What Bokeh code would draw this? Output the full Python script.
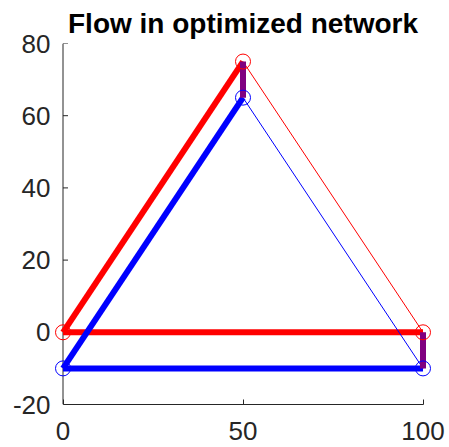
from bokeh.plotting import figure
from bokeh.models import FixedTicker, Range1d
from bokeh.embed import file_html
from bokeh.resources import INLINE

# Node positions (two layers: red upper, blue lower)
node_x = [0, 50, 100]
red_y = [0, 75, 0]
blue_y = [-10, 65, -10]

# Edges as (from, to) node index pairs
thick_edges = [(0, 1), (0, 2)]
thin_edges = [(1, 2)]
# Nodes where the two layers are linked (purple)
link_nodes = [1, 2]

x_ticks = [0, 50, 100]
x_labels = ["0", "50", "100"]
y_ticks = [-20, 0, 20, 40, 60, 80]
y_labels = ["-20", "0", "20", "40", "60", "80"]

AX = "#262626"
PAD = 35 / 12  # small x padding so the end circles are not cut off

p = figure(width=449, height=447, output_backend="svg", toolbar_location=None,
           x_range=Range1d(-PAD, 100 + PAD), y_range=Range1d(-20, 80),
           min_border_left=52, min_border_right=16, min_border_top=43, min_border_bottom=43,
           title="Flow in optimized network")

p.title.text_font = "Liberation Sans"
p.title.text_font_size = "28px"
p.title.text_font_style = "bold"
p.title.text_color = "black"
p.title.align = "center"

p.xgrid.visible = False
p.ygrid.visible = False
p.outline_line_color = None
p.background_fill_color = "white"
p.border_fill_color = "white"

# x axis (below the frame): line and inward ticks limited to 0..100
xa = p.xaxis[0]
xa.ticker = FixedTicker(ticks=x_ticks)
xa.major_label_overrides = {t: l for t, l in zip(x_ticks, x_labels)}
xa.bounds = (x_ticks[0], x_ticks[-1])
xa.major_label_text_font = "Liberation Sans"
xa.major_label_text_font_size = "26px"
xa.major_label_text_color = AX
xa.axis_line_color = AX
xa.major_tick_line_color = AX
xa.major_tick_in = 5
xa.major_tick_out = 0
xa.minor_tick_line_color = None
xa.major_label_standoff = 17

# y axis labels (left panel; the line and ticks are drawn at x = 0 below)
ya = p.yaxis[0]
ya.ticker = FixedTicker(ticks=y_ticks)
ya.major_label_overrides = {t: l for t, l in zip(y_ticks, y_labels)}
ya.major_label_text_font = "Liberation Sans"
ya.major_label_text_font_size = "26px"
ya.major_label_text_color = AX
ya.axis_line_color = None
ya.major_tick_line_color = None
ya.minor_tick_line_color = None
ya.major_tick_in = 0
ya.major_tick_out = 0
ya.major_label_standoff = 2

# y axis line and inward ticks at x = 0
p.segment(x0=[x_ticks[0]], y0=[y_ticks[0]], x1=[x_ticks[0]], y1=[y_ticks[-1]],
          line_color=AX, line_width=1)
p.ray(x=[x_ticks[0]] * len(y_ticks), y=y_ticks, length=5, length_units="screen",
      angle=0, line_color=AX, line_width=1)

for ys, col in ((red_y, "red"), (blue_y, "blue")):
    p.multi_line(xs=[[node_x[a], node_x[b]] for a, b in thick_edges],
                 ys=[[ys[a], ys[b]] for a, b in thick_edges],
                 line_color=col, line_width=6)
    p.multi_line(xs=[[node_x[a], node_x[b]] for a, b in thin_edges],
                 ys=[[ys[a], ys[b]] for a, b in thin_edges],
                 line_color=col, line_width=1)

p.multi_line(xs=[[node_x[i], node_x[i]] for i in link_nodes],
             ys=[[red_y[i], blue_y[i]] for i in link_nodes],
             line_color="#800080", line_width=6)

for ys, col in ((red_y, "red"), (blue_y, "blue")):
    p.scatter(node_x, ys, marker="circle", size=15, fill_color=None,
              line_color=col, line_width=1)

open("out.html", "w").write(file_html(p, INLINE))
